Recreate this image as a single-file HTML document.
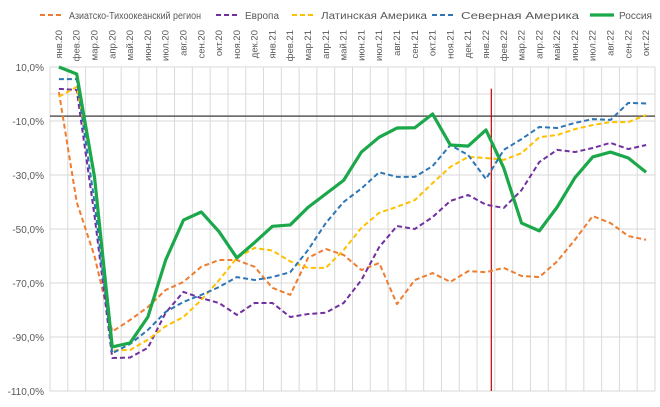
<!DOCTYPE html>
<html><head><meta charset="utf-8"><style>
body{margin:0;background:#fff;font-family:"Liberation Sans",sans-serif;}
svg text{font-family:"Liberation Sans",sans-serif;fill:#595959;}
</style></head><body>
<svg id="c" width="660" height="402"></svg>
<script>
const categories=["янв.20","фев.20","мар.20","апр.20","май.20","июн.20","июл.20","авг.20","сен.20","окт.20","ноя.20","дек.20","янв.21","фев.21","мар.21","апр.21","май.21","июн.21","июл.21","авг.21","сен.21","окт.21","ноя.21","дек.21","янв.22","фев.22","мар.22","апр.22","май.22","июн.22","июл.22","авг.22","сен.22","окт.22"];
const asiaPacific=[0.7,-40,-60,-88,-83.7,-78.9,-72.6,-69.6,-64,-61.5,-61.5,-64,-71.8,-74.4,-60.7,-57.4,-59.6,-65.2,-62.6,-77.8,-68.9,-66.3,-69.6,-65.6,-66,-64.4,-67.4,-67.8,-62,-54,-45.2,-47.8,-52.6,-54];
const europe=[1.9,1.5,-45,-97.8,-97.6,-94,-81,-73.3,-75.6,-77.4,-81.8,-77.4,-77.4,-82.6,-81.5,-81,-77.4,-68.9,-56.7,-48.9,-50,-45.6,-39.6,-37.4,-41,-42.2,-35.6,-25.2,-20.7,-21.5,-20,-18.1,-20.4,-18.9];
const latinAmerica=[-1,2.6,-30,-95,-94.8,-91,-86,-82.6,-76.3,-69,-60.7,-57,-58,-62,-64.4,-64.4,-57.8,-49.6,-44,-41.8,-39.3,-33,-27,-23.3,-23.7,-24.4,-21.9,-16,-15.2,-13,-11.5,-10.4,-10.4,-7.8];
const northAmerica=[5.5,5.5,-40,-96,-92.6,-87.4,-80.7,-77,-74.4,-71.5,-67.8,-68.9,-67.8,-66,-57.8,-47.8,-40,-35,-29,-30.7,-30.7,-26.7,-18.9,-22.6,-31.5,-20.7,-16.7,-12.2,-12.6,-10.7,-9.3,-9.6,-3.3,-3.5];
const russia=[10,7.4,-30.7,-93.7,-92.2,-82.6,-61.5,-46.7,-43.7,-51,-60.7,-55,-49,-48.5,-42,-37,-32,-21.5,-16,-12.6,-12.5,-7.4,-18.9,-19.3,-13.3,-27.4,-47.8,-50.7,-41.9,-31,-23.3,-21.5,-23.7,-29];
const yTicks=[10,-10,-30,-50,-70,-90,-110];
const refLine=-8.2;
const eventIndex=24.3;

const svg=document.getElementById('c');const NS="http://www.w3.org/2000/svg";
const L=50,R=655,T=67,B=391,yMax=10,yMin=-110;
const step=(R-L)/categories.length;
const x=i=>L+step*(i+0.5);
const y=v=>T+(yMax-v)/(yMax-yMin)*(B-T);
function el(t,a,p){const e=document.createElementNS(NS,t);for(const k in a)e.setAttribute(k,a[k]);(p||svg).appendChild(e);return e;}
const grid=el('g',{});


for(let i=0;i<=categories.length;i++)el('line',{x1:L+step*i,x2:L+step*i,y1:T,y2:B,stroke:'#d9d9d9','stroke-width':1},grid);
[10,0,-10,-30,-50,-70,-90,-110].forEach(v=>el('line',{x1:L,x2:R,y1:y(v),y2:y(v),stroke:'#d9d9d9','stroke-width':1},grid));
yTicks.forEach(v=>{const t=el('text',{x:L-6,y:y(v)+4,'text-anchor':'end','font-size':10});t.textContent=v.toFixed(1).replace('.',',')+'%';

});
categories.forEach((c,i)=>{const t=el('text',{transform:`translate(${x(i)+3},30) rotate(-90)`,'text-anchor':'end','font-size':9.5});t.textContent=c;

});
const rl=el('line',{x1:L,x2:R,y1:y(refLine),y2:y(refLine),stroke:'#595959','stroke-width':1.5});


const ev=el('line',{x1:x(eventIndex),x2:x(eventIndex),y1:y(2),y2:B,stroke:'#c00000','stroke-width':1.2});


const series=[
 {name:'asia-pacific',label:'Азиатско-Тихоокеанский регион',data:asiaPacific,color:'#ed7d31',w:2,dash:'5,3'},
 {name:'europe',label:'Европа',data:europe,color:'#7030a0',w:2,dash:'5,3'},
 {name:'latin-america',label:'Латинская Америка',data:latinAmerica,color:'#ffc000',w:2,dash:'5,3'},
 {name:'north-america',label:'Северная Америка',data:northAmerica,color:'#2e75b6',w:2,dash:'5,3'},
 {name:'russia',label:'Россия',data:russia,color:'#1aa84a',w:3.2,dash:''}];
series.forEach(s=>{const p=el('polyline',{points:s.data.map((v,i)=>x(i)+','+y(v)).join(' '),fill:'none',stroke:s.color,'stroke-width':s.w,'stroke-dasharray':s.dash,'stroke-linejoin':'round'});

});
const lx=[40,216,292,432,590];
const lw=[132,34,106,118,33];
series.forEach((s,i)=>{const g=el('g',{});


el('line',{x1:lx[i],x2:lx[i]+24,y1:15,y2:15,stroke:s.color,'stroke-width':s.w,'stroke-dasharray':s.dash},g);
const t=el('text',{x:lx[i]+29,y:19,'font-size':10,textLength:lw[i],lengthAdjust:'spacingAndGlyphs'},g);t.textContent=s.label;});
</script>
</body></html>
